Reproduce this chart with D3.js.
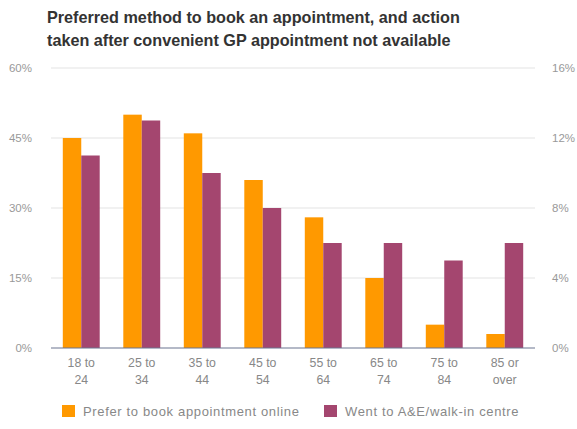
<!DOCTYPE html>
<html>
<head>
<meta charset="utf-8">
<script src="https://cdn.jsdelivr.net/npm/d3@7"></script>
<style>
  html, body { margin: 0; padding: 0; background: #fff; }
  svg { display: block; font-family: "Liberation Sans", Arial, sans-serif; }
</style>
</head>
<body>
<svg id="chart" width="577" height="429"></svg>
<script>
// Age groups (two-line labels)
const categories = ["18 to|24", "25 to|34", "35 to|44", "45 to|54", "55 to|64", "65 to|74", "75 to|84", "85 or|over"];
// Left axis series: % preferring to book online
const preferOnline = [45, 50, 46, 36, 28, 15, 5, 3];
// Right axis series: % who went to A&E / walk-in centre
const wentAE = [11, 13, 10, 8, 6, 6, 5, 6];
const leftTicks = [0, 15, 30, 45, 60];
const rightTicks = [0, 4, 8, 12, 16];
const seriesNames = ["Prefer to book appointment online", "Went to A&E/walk-in centre"];
const colors = ["#FF9900", "#A4466F"];

const svg = d3.select("#chart");
const margin = { top: 68, left: 51, right: 42, bottom: 81 };
const W = 577, H = 429;
const x0 = margin.left, x1 = W - margin.right;
const yTop = margin.top, yBot = H - margin.bottom;

// Title
const title = svg.append("text")
  .attr("fill", "#333").attr("font-size", 16.2).attr("font-weight", "bold");
title.append("tspan").attr("x", 47).attr("y", 23).text("Preferred method to book an appointment, and action");
title.append("tspan").attr("x", 47).attr("y", 46).text("taken after convenient GP appointment not available");

const x = d3.scaleBand().domain(categories).range([x0, x1]).paddingInner(0.39).paddingOuter(0.195);
const xs = d3.scaleBand().domain([0, 1]).range([0, x.bandwidth()]).padding(0);
const yL = d3.scaleLinear().domain([0, 60]).range([yBot, yTop]);
const yR = d3.scaleLinear().domain([0, 16]).range([yBot, yTop]);

// Gridlines
svg.append("g").selectAll("line").data(leftTicks.slice(1)).join("line")
  .attr("x1", x0).attr("x2", x1)
  .attr("y1", d => yL(d)).attr("y2", d => yL(d))
  .attr("stroke", "#e3e3e3").attr("stroke-width", 1.2);

// Left axis
const leftAxis = svg.append("g").attr("transform", `translate(${x0 - 16},0)`)
  .call(d3.axisLeft(yL).tickValues(leftTicks).tickSize(0).tickFormat(d => d + "%"));
leftAxis.select(".domain").remove();
leftAxis.selectAll("text").attr("fill", "#999").attr("font-size", 11.5).attr("font-family", "Liberation Sans, Arial, sans-serif");

// Right axis
const rightAxis = svg.append("g").attr("transform", `translate(${x1 + 14},0)`)
  .call(d3.axisRight(yR).tickValues(rightTicks).tickSize(0).tickFormat(d => d + "%"));
rightAxis.select(".domain").remove();
rightAxis.selectAll("text").attr("fill", "#999").attr("font-size", 11.5).attr("font-family", "Liberation Sans, Arial, sans-serif");

// Bars
const groups = svg.append("g").selectAll("g").data(categories).join("g")
  .attr("transform", d => `translate(${x(d)},0)`);
groups.append("rect")
  .attr("x", xs(0)).attr("width", xs.bandwidth())
  .attr("y", (d, i) => yL(preferOnline[i]))
  .attr("height", (d, i) => yBot - yL(preferOnline[i]))
  .attr("fill", colors[0]);
groups.append("rect")
  .attr("x", xs(1)).attr("width", xs.bandwidth())
  .attr("y", (d, i) => yR(wentAE[i]))
  .attr("height", (d, i) => yBot - yR(wentAE[i]))
  .attr("fill", colors[1]);

// Baseline
svg.append("line").attr("x1", x0).attr("x2", x1).attr("y1", yBot).attr("y2", yBot)
  .attr("stroke", "#6b7590").attr("stroke-width", 1.2);

// X axis labels (two lines)
const xl = svg.append("g").selectAll("text").data(categories).join("text")
  .attr("text-anchor", "middle").attr("fill", "#888").attr("font-size", 12.3);
xl.each(function(d) {
  const parts = d.split("|");
  const cx = x(d) + x.bandwidth() / 2;
  d3.select(this).append("tspan").attr("x", cx).attr("y", yBot + 19).text(parts[0]);
  d3.select(this).append("tspan").attr("x", cx).attr("y", yBot + 36).text(parts[1]);
});

// Legend
const legendPos = [62, 324];
const lg = svg.append("g").selectAll("g").data(seriesNames).join("g")
  .attr("transform", (d, i) => `translate(${legendPos[i]},405)`);
lg.append("rect").attr("width", 13).attr("height", 12).attr("fill", (d, i) => colors[i]);
lg.append("text").attr("x", 21).attr("y", 10.5).attr("fill", "#888")
  .attr("font-size", 13).attr("letter-spacing", 0.65).text(d => d);
</script>
</body>
</html>
